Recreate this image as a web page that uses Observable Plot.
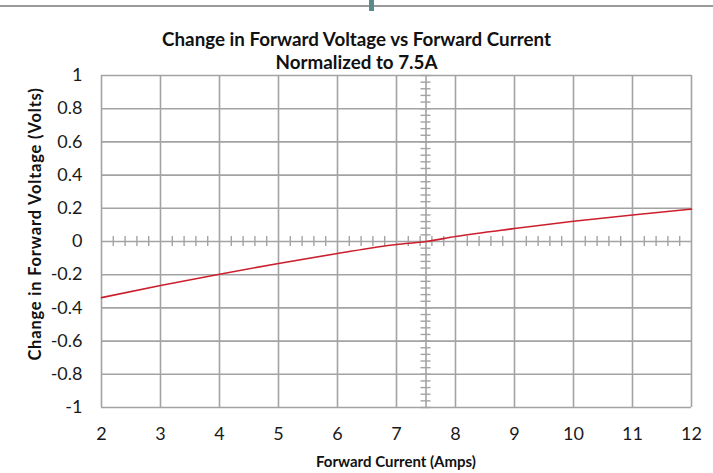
<!DOCTYPE html>
<html>
<head>
<meta charset="utf-8">
<script src="https://cdn.jsdelivr.net/npm/d3@7"></script>
<script src="https://cdn.jsdelivr.net/npm/@observablehq/plot@0.6"></script>
<style>
  html, body { margin: 0; padding: 0; background: #fff; }
  #wrap { position: relative; width: 713px; height: 473px; overflow: hidden; font-family: Lato, "Open Sans", sans-serif; }
  #topline { position: absolute; left: 0; top: 5px; width: 713px; height: 2px; background: #9a9a9a; }
  #topmark { position: absolute; left: 369px; top: 0px; width: 5px; height: 11px; background: #5a8c8c; }
  .title { position: absolute; left: 0; width: 713px; text-align: center; font-weight: bold; font-size: 18.8px; line-height: 22px; color: #111; }
  #ytitle { position: absolute; left: 35px; top: 224px; transform: translate(-50%, -50%) rotate(-90deg); white-space: nowrap; font-weight: bold; font-size: 16.5px; letter-spacing: 0.8px; color: #111; }
  #xtitle { position: absolute; left: 396px; top: 461px; transform: translate(-50%, -50%); white-space: nowrap; font-weight: bold; font-size: 15px; color: #111; }
  #chart { position: absolute; left: 0; top: 0; }
</style>
</head>
<body>
<div id="wrap">
  <div id="topline"></div>
  <div id="topmark"></div>
  <div id="chart"></div>
  <div class="title" style="top:28px">Change in Forward Voltage vs Forward Current</div>
  <div class="title" style="top:51px">Normalized to 7.5A</div>
  <div id="ytitle">Change in Forward Voltage (Volts)</div>
  <div id="xtitle">Forward Current (Amps)</div>
</div>
<script>
// Data
const current = [2, 3, 4, 5, 6, 7, 7.5, 8, 9, 10, 11, 12];
const deltaV  = [-0.338, -0.265, -0.197, -0.132, -0.072, -0.018, 0, 0.030, 0.078, 0.122, 0.160, 0.195];

const xTicks = [2, 3, 4, 5, 6, 7, 8, 9, 10, 11, 12];
const yTicks = [-1, -0.8, -0.6, -0.4, -0.2, 0, 0.2, 0.4, 0.6, 0.8, 1];
const xMinor = d3.range(10, 60).map(i => i / 5).filter(v => Math.abs(v - Math.round(v)) > 1e-9);
const yMinor = d3.range(-25, 26).map(i => i * 0.04);
const axisCrossX = 7.5;

const points = current.map((c, i) => ({c, v: deltaV[i]}));
const gridColor = "#a3a3a3";
const fmt = d => String(+d.toFixed(1));

const chart = Plot.plot({
  width: 713,
  height: 473,
  marginLeft: 101,
  marginRight: 22,
  marginTop: 75,
  marginBottom: 66,
  style: {fontFamily: "Lato, 'Open Sans', sans-serif", fontSize: "18px", color: "#1a1a1a", background: "transparent"},
  x: {domain: [2, 12]},
  y: {domain: [-1, 1]},
  marks: [
    Plot.gridX(xTicks, {stroke: gridColor, strokeOpacity: 1, strokeWidth: 1.6}),
    Plot.gridY(yTicks, {stroke: gridColor, strokeOpacity: 1, strokeWidth: 1.6}),
    Plot.ruleX([axisCrossX], {stroke: gridColor, strokeWidth: 1.6}),
    Plot.ruleX(xMinor, {x: d => d, y1: 0, y2: 0, insetTop: -5, insetBottom: -5, stroke: gridColor, strokeWidth: 1.4}),
    Plot.ruleY(yMinor, {y: d => d, x1: axisCrossX, x2: axisCrossX, insetLeft: -5, insetRight: -5, stroke: gridColor, strokeWidth: 1.4}),
    Plot.axisX({ticks: xTicks, tickSize: 0, tickPadding: 20, fontSize: 18, tickFormat: d => String(d), label: null}),
    Plot.axisY({ticks: yTicks, tickSize: 0, tickPadding: 19, fontSize: 18, tickFormat: fmt, label: null}),
    Plot.line(points, {x: "c", y: "v", stroke: "#cc1f2d", strokeWidth: 1.6, curve: "monotone-x"})
  ]
});
document.getElementById("chart").appendChild(chart);
</script>
</body>
</html>
